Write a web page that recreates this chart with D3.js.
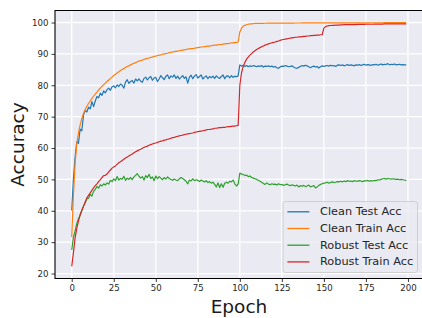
<!DOCTYPE html>
<html>
<head>
<meta charset="utf-8">
<script src="https://cdn.jsdelivr.net/npm/d3@7"></script>
<style>
  html, body { margin: 0; padding: 0; background: #ffffff; }
  svg text { font-family: "DejaVu Sans", sans-serif; }
</style>
</head>
<body>
<div id="my_dataviz"></div>
<script>
// accuracy per epoch (index = epoch)
const cleanTest = [
  40.1, 50.0, 57.0, 62.0, 61.5, 66.0, 65.5, 70.5, 72.0, 71.5,
  73.0, 72.5, 74.8, 73.2, 75.0, 76.4, 76.0, 77.5, 76.8, 78.2,
  77.6, 78.6, 79.1, 78.4, 79.5, 79.8, 79.2, 80.1, 79.6, 80.4,
  80.0, 79.1, 81.0, 81.8, 80.6, 81.2, 81.5, 80.7, 82.0, 81.4,
  82.0, 81.3, 81.0, 82.2, 82.6, 81.7, 82.4, 82.8, 81.6, 82.3,
  82.5, 81.2, 82.0, 83.1, 82.4, 81.8, 82.9, 83.3, 82.1, 83.0,
  82.6, 83.3, 82.2, 82.9, 82.0, 82.5, 83.1, 82.2, 82.7, 80.7,
  82.6, 83.2, 82.1, 82.9, 83.4, 82.3, 82.8, 83.3, 82.0, 82.6,
  83.0, 82.1, 82.8, 82.4, 82.9, 82.2, 83.0, 82.5, 82.2, 82.8,
  83.3, 82.1, 82.9, 83.0, 82.4, 83.1, 82.5, 82.9, 82.7, 83.0,
  86.5, 86.1, 86.4, 86.0, 86.3, 85.9, 86.2, 86.0, 86.3, 86.1,
  85.9, 86.2, 86.0, 86.3, 85.8, 86.1, 86.0, 86.2, 85.9, 86.1,
  85.8, 86.0, 85.6, 85.4, 85.8, 86.1, 86.0, 86.3, 86.1, 85.9,
  86.0, 86.2, 85.8, 85.5, 85.4, 85.7, 86.0, 86.3, 86.1, 86.4,
  86.2, 85.9, 85.6, 85.9, 86.1, 85.8, 86.0, 85.5, 85.9, 86.2,
  86.0, 86.2, 86.3, 86.1, 86.4, 86.2, 86.3, 86.0, 86.4, 86.5,
  86.3, 86.5, 86.2, 86.4, 86.6, 86.3, 86.5, 86.4, 86.2, 86.5,
  86.4, 86.6, 86.3, 86.5, 86.7, 86.4, 86.6, 86.5, 86.3, 86.6,
  86.5, 86.7, 86.4, 86.6, 86.8, 86.5, 86.7, 86.6, 86.9, 86.5,
  86.7, 86.6, 86.8, 86.5, 86.6, 86.7, 86.5, 86.6, 86.5, 86.5
];

const cleanTrain = [
  31.6, 45.0, 55.0, 61.3, 64.8, 67.4, 69.4, 71.0, 72.3, 73.3,
  74.2, 75.0, 75.8, 76.5, 77.2, 77.8, 78.5, 79.1, 79.7, 80.2,
  80.7, 81.2, 81.7, 82.2, 82.6, 83.1, 83.5, 83.9, 84.3, 84.7,
  85.0, 85.3, 85.7, 86.0, 86.2, 86.5, 86.8, 87.0, 87.2, 87.5,
  87.7, 87.9, 88.0, 88.2, 88.4, 88.6, 88.7, 88.9, 89.0, 89.2,
  89.3, 89.5, 89.6, 89.7, 89.9, 90.0, 90.1, 90.2, 90.4, 90.5,
  90.6, 90.7, 90.8, 90.9, 91.0, 91.1, 91.2, 91.3, 91.4, 91.5,
  91.6, 91.7, 91.7, 91.8, 91.9, 92.0, 92.1, 92.2, 92.2, 92.3,
  92.4, 92.5, 92.5, 92.6, 92.7, 92.8, 92.8, 92.9, 93.0, 93.0,
  93.1, 93.2, 93.3, 93.3, 93.4, 93.5, 93.5, 93.6, 93.7, 93.8,
  97.0, 98.2, 98.8, 99.1, 99.3, 99.45, 99.55, 99.6, 99.65, 99.7,
  99.72, 99.73, 99.74, 99.75, 99.76, 99.77, 99.78, 99.78, 99.79, 99.8,
  99.8, 99.8, 99.81, 99.81, 99.82, 99.82, 99.82, 99.83, 99.83, 99.83,
  99.84, 99.84, 99.84, 99.85, 99.85, 99.85, 99.85, 99.86, 99.86, 99.86,
  99.86, 99.87, 99.87, 99.87, 99.87, 99.87, 99.88, 99.88, 99.88, 99.88,
  99.88, 99.89, 99.89, 99.89, 99.89, 99.89, 99.89, 99.9, 99.9, 99.9,
  99.9, 99.9, 99.9, 99.9, 99.91, 99.91, 99.91, 99.91, 99.91, 99.91,
  99.91, 99.92, 99.92, 99.92, 99.92, 99.92, 99.92, 99.92, 99.93, 99.93,
  99.93, 99.93, 99.93, 99.93, 99.93, 99.93, 99.94, 99.94, 99.94, 99.94,
  99.94, 99.94, 99.94, 99.94, 99.95, 99.95, 99.95, 99.95, 99.95, 99.95
];

const robustTest = [
  27.5, 31.5, 33.5, 36.0, 37.5, 38.5, 40.0, 41.5, 42.5, 43.8,
  44.0, 45.2, 44.7, 46.2, 46.8, 47.8, 47.2, 48.3, 47.9, 48.6,
  48.2, 48.9, 48.5, 49.7, 49.3, 50.2, 49.6, 50.9, 49.8, 50.3,
  50.1, 51.0, 49.7, 50.4, 50.0, 50.6, 49.9, 50.8, 51.3, 51.8,
  51.0, 50.4, 50.9, 49.8, 51.2, 50.6, 51.6, 50.3, 50.8, 49.6,
  51.1, 50.2, 50.9, 50.4, 49.9, 50.6, 50.1, 50.8, 50.3, 50.0,
  49.7, 50.1, 49.8, 49.6, 50.2, 50.6, 50.3, 49.9, 49.4, 48.6,
  49.8, 49.5, 50.2, 49.6, 49.9, 49.7, 49.3, 49.8, 49.5, 49.2,
  49.6, 49.0, 49.3, 48.8, 49.1, 48.4, 47.6, 48.9, 47.4, 48.6,
  47.5, 48.8, 49.1, 48.8, 49.4, 49.2, 49.8, 48.6, 47.9, 48.5,
  52.0, 51.7, 51.6, 51.2, 51.4, 50.9, 51.1, 50.6, 50.4, 50.2,
  50.0, 49.7, 49.4, 49.1, 48.7, 48.4, 48.9, 48.5, 48.3, 48.6,
  48.4, 48.5, 48.2, 48.6, 48.3, 48.4, 48.1, 48.3, 48.5, 48.2,
  48.0, 48.3, 48.1, 47.9, 48.2, 47.6, 48.0, 47.8, 48.1, 47.7,
  47.9, 48.2, 47.6, 47.8, 48.0, 47.3, 47.6, 48.1, 48.4, 48.6,
  48.8, 48.9, 49.1, 48.8, 49.0, 49.2, 49.0, 49.1, 49.3, 49.2,
  49.4, 49.2, 49.5, 49.3, 49.6, 49.4, 49.5, 49.3, 49.6, 49.5,
  49.4, 49.6, 49.5, 49.3, 49.6, 49.5, 49.7, 49.4, 49.6, 49.5,
  49.7, 49.6, 49.9, 49.8, 50.0, 50.2, 50.3, 50.1, 50.3, 50.2,
  50.1, 50.2, 50.1, 50.0, 50.1, 49.9, 50.0, 49.9, 49.8, 49.6
];

const robustTrain = [
  22.3, 26.6, 31.3, 34.5, 36.6, 38.8, 40.2, 41.4, 42.8, 44.1,
  44.9, 45.7, 46.5, 47.3, 48.0, 48.6, 49.3, 49.9, 50.6, 51.2,
  51.3, 51.7, 52.4, 53.0, 53.6, 54.0, 54.3, 54.8, 55.3, 55.6,
  56.0, 56.4, 56.8, 57.1, 57.5, 57.8, 58.1, 58.5, 58.8, 59.1,
  59.4, 59.6, 59.9, 60.2, 60.4, 60.6, 60.9, 61.1, 61.3, 61.5,
  61.6, 61.8, 62.0, 62.2, 62.3, 62.5, 62.6, 62.8, 62.9, 63.1,
  63.3, 63.4, 63.6, 63.7, 63.9, 64.0, 64.1, 64.3, 64.4, 64.5,
  64.6, 64.7, 64.8, 65.0, 65.1, 65.2, 65.3, 65.4, 65.5, 65.6,
  65.8, 65.9, 65.9, 66.0, 66.1, 66.3, 66.3, 66.4, 66.5, 66.5,
  66.6, 66.6, 66.7, 66.8, 66.8, 66.9, 67.0, 67.0, 67.1, 67.2,
  80.0, 84.0, 86.0, 87.3, 88.3, 89.0, 89.6, 90.1, 90.6, 91.0,
  91.4, 91.7, 92.0, 92.3, 92.5, 92.8, 93.0, 93.2, 93.4, 93.5,
  93.7, 93.8, 94.0, 94.1, 94.3, 94.5, 94.6, 94.7, 94.8, 94.9,
  95.0, 95.1, 95.2, 95.3, 95.3, 95.4, 95.4, 95.5, 95.6, 95.6,
  95.7, 95.7, 95.8, 95.8, 95.9, 95.9, 96.0, 96.0, 96.1, 96.1,
  98.2, 98.7, 98.9, 99.0, 99.05, 99.1, 99.1, 99.15, 99.2, 99.2,
  99.25, 99.25, 99.3, 99.3, 99.3, 99.3, 99.35, 99.35, 99.35, 99.35,
  99.4, 99.4, 99.4, 99.4, 99.4, 99.45, 99.45, 99.45, 99.45, 99.45,
  99.5, 99.5, 99.5, 99.5, 99.5, 99.5, 99.55, 99.55, 99.55, 99.55,
  99.55, 99.55, 99.6, 99.6, 99.6, 99.6, 99.6, 99.6, 99.6, 99.6
];

const seriesNames = ["Clean Test Acc", "Clean Train Acc", "Robust Test Acc", "Robust Train Acc"];
const seriesColors = ["#1f77b4", "#ff7f0e", "#2ca02c", "#d62728"];
const xTicks = [0, 25, 50, 75, 100, 125, 150, 175, 200];
const yTicks = [20, 30, 40, 50, 60, 70, 80, 90, 100];

let width = 422;
let height = 318;
// plot box (right side runs past the picture edge, as in the reference)
let margin = { top: 10.5, left: 55, bottom: 278.5, right: 423 };

var svg = d3
  .select("#my_dataviz")
  .append("svg")
  .attr("width", width)
  .attr("height", height);

let allSeries = [cleanTest, cleanTrain, robustTest, robustTrain];

// matplotlib style 5% padding round the data
let xMax = cleanTest.length - 1;
let xPad = xMax * 0.05;
let yMin = d3.min(allSeries, s => d3.min(s));
let yMax = d3.max(allSeries, s => d3.max(s));
let yPad = (yMax - yMin) * 0.05;

let x = d3.scaleLinear().domain([-xPad, xMax + xPad]).range([margin.left, margin.right]);
let y = d3.scaleLinear().domain([yMin - yPad, yMax + yPad]).range([margin.bottom, margin.top]);

// background
svg
  .append("rect")
  .attr("x", margin.left)
  .attr("y", margin.top)
  .attr("width", margin.right - margin.left)
  .attr("height", margin.bottom - margin.top)
  .attr("fill", "#eaeaf2");

// grid
svg
  .selectAll("xGrid")
  .data(xTicks)
  .enter()
  .append("line")
  .attr("x1", d => x(d))
  .attr("x2", d => x(d))
  .attr("y1", margin.top)
  .attr("y2", margin.bottom)
  .attr("stroke", "#ffffff")
  .attr("stroke-width", 1.3);

svg
  .selectAll("yGrid")
  .data(yTicks)
  .enter()
  .append("line")
  .attr("x1", margin.left)
  .attr("x2", margin.right)
  .attr("y1", d => y(d))
  .attr("y2", d => y(d))
  .attr("stroke", "#ffffff")
  .attr("stroke-width", 1.3);

// the four curves
let line = d3
  .line()
  .x((d, i) => x(i))
  .y(d => y(d));

svg
  .selectAll("curves")
  .data(allSeries)
  .enter()
  .append("path")
  .attr("d", line)
  .attr("fill", "none")
  .attr("stroke", (d, i) => seriesColors[i])
  .attr("stroke-width", 1.2)
  .attr("stroke-linejoin", "round");

// axes
let xAxis = svg
  .append("g")
  .attr("transform", "translate(0," + margin.bottom + ")")
  .call(d3.axisBottom(x).tickValues(xTicks).tickSize(3.5).tickSizeOuter(0).tickPadding(3));

let yAxis = svg
  .append("g")
  .attr("transform", "translate(" + margin.left + ",0)")
  .call(d3.axisLeft(y).tickValues(yTicks).tickSize(3.5).tickSizeOuter(0).tickPadding(3));

[xAxis, yAxis].forEach(function(ax) {
  ax.select(".domain").remove();
  ax.selectAll(".tick line").attr("stroke", "#262626").attr("stroke-width", 0.9);
  ax.selectAll(".tick text")
    .attr("fill", "#262626")
    .style("font-size", "8.6px")
    .style("font-family", "DejaVu Sans");
});

// spines: left, bottom and top
svg
  .append("path")
  .attr("d", "M" + margin.right + "," + margin.top + "H" + margin.left + "V" + margin.bottom + "H" + margin.right)
  .attr("fill", "none")
  .attr("stroke", "#000000")
  .attr("stroke-width", 1.1);

// axis titles
svg
  .append("text")
  .attr("x", (margin.left + margin.right) / 2)
  .attr("y", 313)
  .attr("text-anchor", "middle")
  .style("font-size", "18.5px")
  .attr("fill", "#1a1a1a")
  .text("Epoch");

svg
  .append("text")
  .attr("transform", "translate(23.5," + (margin.top + margin.bottom) / 2 + ") rotate(-90)")
  .attr("text-anchor", "middle")
  .style("font-size", "18.5px")
  .attr("fill", "#1a1a1a")
  .text("Accuracy");

// legend, lower right
let legendBox = { x: 283, y: 201.5, w: 134.5, h: 71 };
let legend = svg.append("g");

legend
  .append("rect")
  .attr("x", legendBox.x)
  .attr("y", legendBox.y)
  .attr("width", legendBox.w)
  .attr("height", legendBox.h)
  .attr("rx", 2.5)
  .attr("fill", "#eaeaf2")
  .attr("fill-opacity", 0.8)
  .attr("stroke", "#cccccc")
  .attr("stroke-width", 0.9);

seriesNames.forEach(function(d, i) {
  let rowY = legendBox.y + 10.3 + i * 16.7;
  legend
    .append("line")
    .attr("x1", legendBox.x + 4.4)
    .attr("x2", legendBox.x + 26.4)
    .attr("y1", rowY)
    .attr("y2", rowY)
    .attr("stroke", seriesColors[i])
    .attr("stroke-width", 1.3);
  legend
    .append("text")
    .attr("x", legendBox.x + 37)
    .attr("y", rowY)
    .attr("dominant-baseline", "central")
    .style("font-size", "11.3px")
    .attr("fill", "#262626")
    .text(d);
});
</script>
</body>
</html>
